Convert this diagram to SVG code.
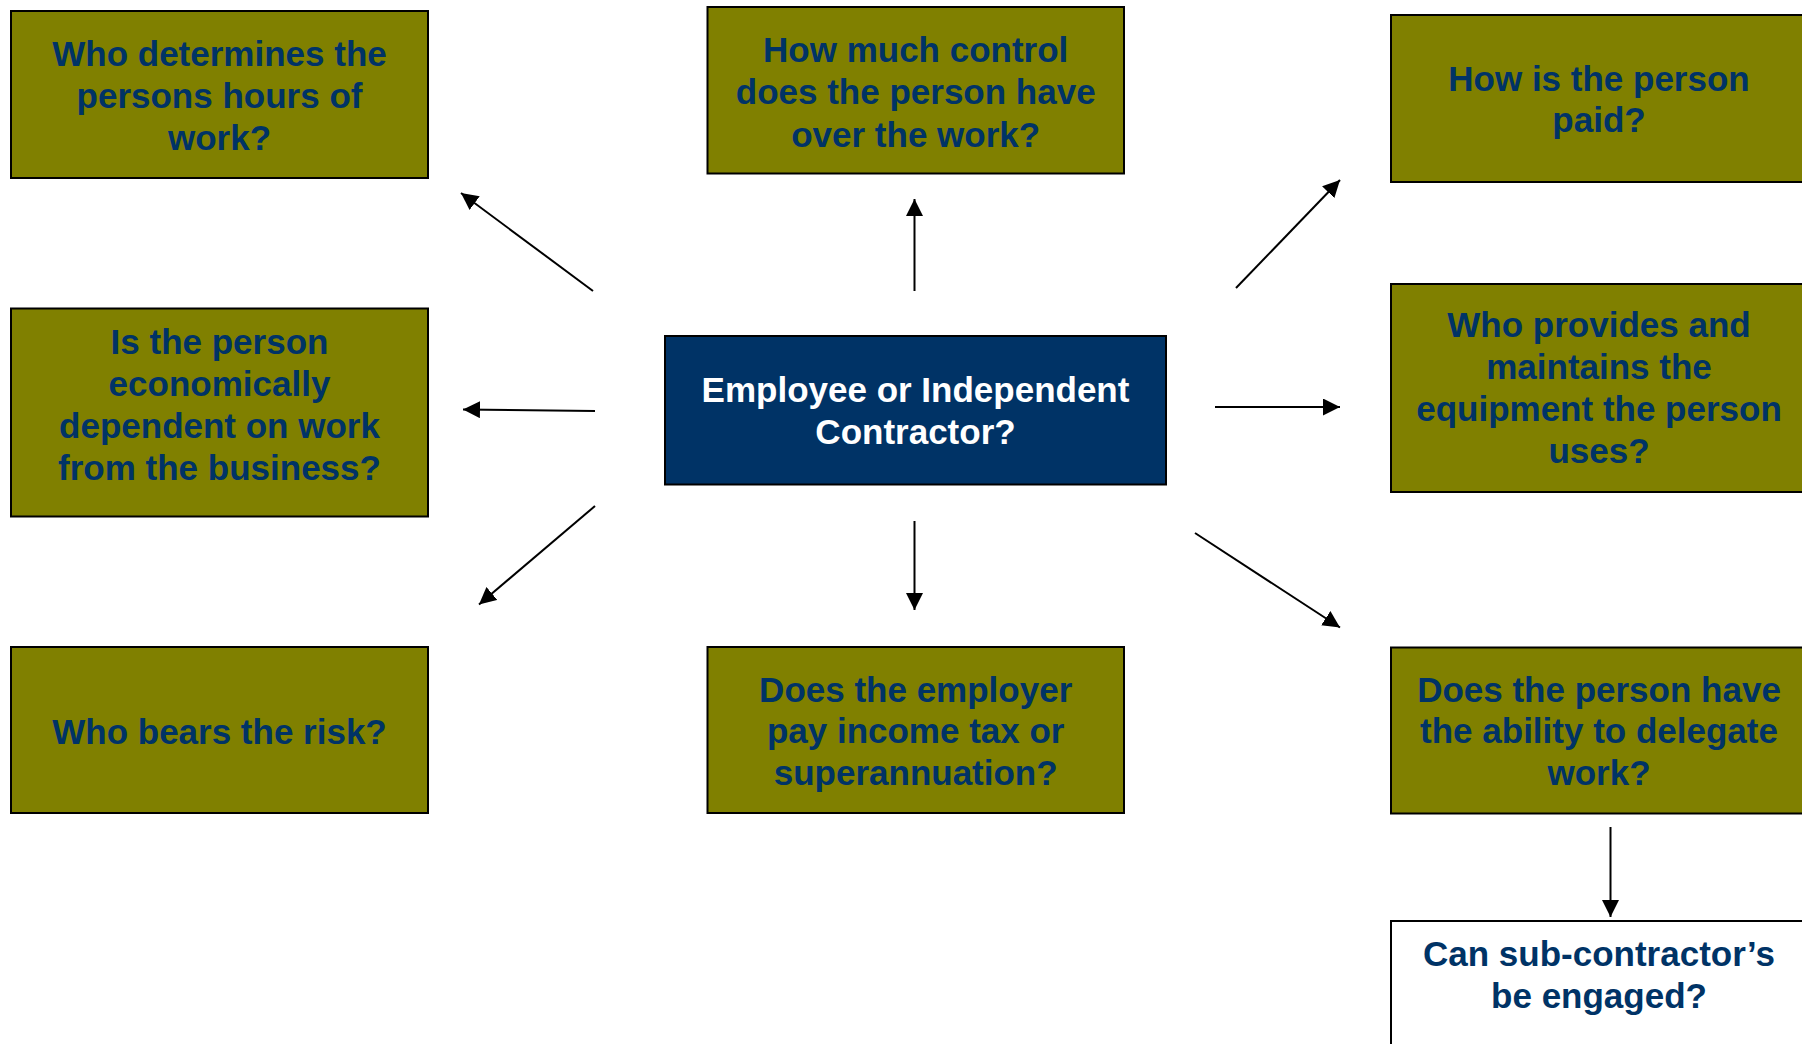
<svg xmlns="http://www.w3.org/2000/svg" width="1802" height="1044" viewBox="0 0 1802 1044">
  <style>
    .q { fill: #808000; stroke: #000; stroke-width: 2; }
    .hub { fill: #003366; stroke: #000; stroke-width: 2; }
    .plain { fill: #fff; stroke: #000; stroke-width: 2; }
    text { font-family: "Liberation Sans", Arial, sans-serif; font-size: 35px; font-weight: bold; text-anchor: middle; }
    .dark { fill: #003366; }
    .light { fill: #fff; }
    .link { stroke: #000; stroke-width: 2; fill: none; marker-end: url(#head); }
  </style>
  <defs>
    <marker id="head" markerUnits="userSpaceOnUse" markerWidth="18" markerHeight="18" refX="17" refY="8.5" orient="auto">
      <path d="M0,0 L17,8.5 L0,17 Z" fill="#000"/>
    </marker>
  </defs>
  <rect width="1802" height="1044" fill="#fff"/>

  <g id="connectors">
    <line class="link" x1="593" y1="291" x2="461" y2="193"/>
    <line class="link" x1="914.5" y1="291" x2="914.5" y2="199"/>
    <line class="link" x1="1236" y1="288" x2="1340" y2="180"/>
    <line class="link" x1="595" y1="411" x2="463" y2="409.5"/>
    <line class="link" x1="1215" y1="407" x2="1340" y2="407"/>
    <line class="link" x1="595" y1="506" x2="479" y2="604.5"/>
    <line class="link" x1="914.5" y1="521" x2="914.5" y2="610"/>
    <line class="link" x1="1195" y1="533" x2="1340" y2="627.5"/>
    <line class="link" x1="1610.5" y1="827" x2="1610.5" y2="917"/>
  </g>

  <g id="hours">
    <rect class="q" x="11" y="11" width="417" height="167"/>
    <text class="dark" x="219.5" y="66">Who determines the</text>
    <text class="dark" x="219.5" y="108">persons hours of</text>
    <text class="dark" x="219.5" y="150">work?</text>
  </g>

  <g id="control">
    <rect class="q" x="707.5" y="7" width="416.5" height="166.5"/>
    <text class="dark" x="915.7" y="61.5">How much control</text>
    <text class="dark" x="915.7" y="104">does the person have</text>
    <text class="dark" x="915.7" y="146.5">over the work?</text>
  </g>

  <g id="paid">
    <rect class="q" x="1391" y="15" width="417" height="167"/>
    <text class="dark" x="1599" y="90.5">How is the person</text>
    <text class="dark" x="1599" y="132">paid?</text>
  </g>

  <g id="dependent">
    <rect class="q" x="11" y="308.5" width="417" height="208"/>
    <text class="dark" x="219.5" y="354">Is the person</text>
    <text class="dark" x="219.5" y="396">economically</text>
    <text class="dark" x="219.5" y="438">dependent on work</text>
    <text class="dark" x="219.5" y="480">from the business?</text>
  </g>

  <g id="hub">
    <rect class="hub" x="665" y="336" width="501" height="148.5"/>
    <text class="light" x="915.5" y="401.5">Employee or Independent</text>
    <text class="light" x="915.5" y="444">Contractor?</text>
  </g>

  <g id="equipment">
    <rect class="q" x="1391" y="284" width="417" height="208"/>
    <text class="dark" x="1599" y="337">Who provides and</text>
    <text class="dark" x="1599" y="379">maintains the</text>
    <text class="dark" x="1599" y="421">equipment the person</text>
    <text class="dark" x="1599" y="463">uses?</text>
  </g>

  <g id="risk">
    <rect class="q" x="11" y="647" width="417" height="166"/>
    <text class="dark" x="219.5" y="744">Who bears the risk?</text>
  </g>

  <g id="tax">
    <rect class="q" x="707.5" y="647" width="416.5" height="166"/>
    <text class="dark" x="915.7" y="701.5">Does the employer</text>
    <text class="dark" x="915.7" y="743">pay income tax or</text>
    <text class="dark" x="915.7" y="785">superannuation?</text>
  </g>

  <g id="delegate">
    <rect class="q" x="1391" y="647.5" width="417" height="166"/>
    <text class="dark" x="1599" y="701.5">Does the person have</text>
    <text class="dark" x="1599" y="743">the ability to delegate</text>
    <text class="dark" x="1599" y="785">work?</text>
  </g>

  <g id="subcontract">
    <rect class="plain" x="1391" y="921" width="417" height="166"/>
    <text class="dark" x="1599" y="966">Can sub-contractor’s</text>
    <text class="dark" x="1599" y="1008">be engaged?</text>
  </g>
</svg>
